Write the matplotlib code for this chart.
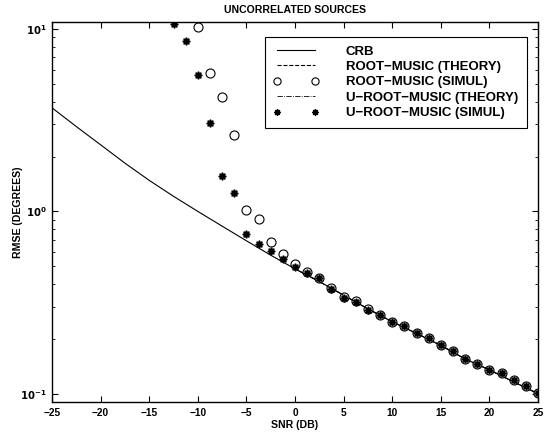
import numpy as np
import matplotlib
matplotlib.use("Agg")
import matplotlib.pyplot as plt
from matplotlib.ticker import FixedLocator, NullFormatter

plt.rcParams['font.family'] = ['Liberation Sans', 'DejaVu Sans']
plt.rcParams['font.weight'] = 'bold'
plt.rcParams['mathtext.default'] = 'bf'

# CRB curve
crb_snr = [-25, -22.5, -20, -17.5, -15, -12.5, -10, -7.5, -5, -2.5, 0,
           2.5, 5, 7.5, 10, 12.5, 15, 17.5, 20, 22.5, 25]
crb_val = [3.70, 2.92, 2.32, 1.84, 1.48, 1.21, 1.0, 0.83, 0.69, 0.575, 0.484,
           0.412, 0.347, 0.292, 0.248, 0.214, 0.184, 0.155, 0.135, 0.116, 0.10]

# theory curves (practically coincide with CRB)
rm_theory_snr = [0, 2.5, 5, 7.5, 10, 12.5, 15, 17.5, 20, 22.5, 25]
rm_theory_val = [0.484, 0.412, 0.347, 0.292, 0.248, 0.214, 0.184, 0.155, 0.135, 0.116, 0.10]
urm_theory_snr = [0, 2.5, 5, 7.5, 10, 12.5, 15, 17.5, 20, 22.5, 25]
urm_theory_val = [0.484, 0.412, 0.347, 0.292, 0.248, 0.214, 0.184, 0.155, 0.135, 0.116, 0.10]

# ROOT-MUSIC simulation (open circles)
rm_sim_snr = [-10, -8.75, -7.5, -6.25, -5, -3.75, -2.5, -1.25, 0, 1.25, 2.5, 3.75,
              5, 6.25, 7.5, 8.75, 10, 11.25, 12.5, 13.75, 15, 16.25, 17.5, 18.75,
              20, 21.25, 22.5, 23.75, 25]
rm_sim_val = [10.3, 5.71, 4.24, 2.63, 1.02, 0.906, 0.68, 0.587, 0.515, 0.466, 0.433, 0.378,
              0.338, 0.322, 0.29, 0.27, 0.248, 0.235, 0.216, 0.202, 0.185, 0.171, 0.154, 0.145,
              0.1355, 0.1295, 0.1185, 0.1106, 0.1005]

# U-ROOT-MUSIC simulation (stars)
urm_sim_snr = [-12.5, -11.25, -10, -8.75, -7.5, -6.25, -5, -3.75, -2.5, -1.25, 0, 1.25,
               2.5, 3.75, 5, 6.25, 7.5, 8.75, 10, 11.25, 12.5, 13.75, 15, 16.25, 17.5,
               18.75, 20, 21.25, 22.5, 23.75, 25]
urm_sim_val = [10.65, 8.66, 5.59, 3.05, 1.56, 1.268, 0.75, 0.666, 0.607, 0.547, 0.494, 0.46,
               0.431, 0.374, 0.336, 0.32, 0.289, 0.269, 0.247, 0.234, 0.216, 0.202, 0.185,
               0.171, 0.154, 0.145, 0.1355, 0.1295, 0.1185, 0.1106, 0.1005]

x_ticks = [-25, -20, -15, -10, -5, 0, 5, 10, 15, 20, 25]
x_ticklabels = ['\u221225', '\u221220', '\u221215', '\u221210', '\u22125', '0', '5', '10', '15', '20', '25']
y_ticks = [0.1, 1, 10]
y_ticklabels = ['$10^{-1}$', '$10^{0}$', '$10^{1}$']

fig = plt.figure(figsize=(5.44, 4.33), dpi=100)
ax = fig.add_axes([0.0956, 0.0716, 0.8934, 0.8769])

fs = 7.3
ax.plot(crb_snr, crb_val, '-', color='black', lw=0.8, label='CRB')
ax.plot(rm_theory_snr, rm_theory_val, '--', color='black', lw=0.8, label='ROOT\u2212MUSIC (THEORY)')
ax.plot(rm_sim_snr, rm_sim_val, 'o', mfc='white', mec='black', mew=0.8, ms=6.5,
        linestyle='none', label='ROOT\u2212MUSIC (SIMUL)')
ax.plot(urm_theory_snr, urm_theory_val, '-.', color='black', lw=0.6, label='U\u2212ROOT\u2212MUSIC (THEORY)')
ax.plot(urm_sim_snr, urm_sim_val, marker=(8, 1, 0), color='black', ms=5.5,
        linestyle='none', label='U\u2212ROOT\u2212MUSIC (SIMUL)')

ax.set_yscale('log')
ax.set_xlim(-25, 25)
ax.set_ylim(0.09, 10.9)
ax.xaxis.set_major_locator(FixedLocator(x_ticks))
ax.set_xticklabels(x_ticklabels)
ax.yaxis.set_major_locator(FixedLocator(y_ticks))
ax.set_yticklabels(y_ticklabels)
ax.yaxis.set_minor_formatter(NullFormatter())
ax.tick_params(which='both', direction='in', top=True, right=True, labelsize=fs, pad=4)
ax.tick_params(which='major', length=4, width=0.8)
ax.tick_params(which='minor', length=2, width=0.6)
for s in ax.spines.values():
    s.set_linewidth(1.0)

ax.set_title('UNCORRELATED SOURCES', fontsize=7.6, pad=7, fontweight='bold')
ax.set_xlabel('SNR (DB)', fontsize=7.6, labelpad=2, fontweight='bold')
ax.set_ylabel('RMSE (DEGREES)', fontsize=7.6, fontweight='bold')
ax.yaxis.set_label_coords(-0.06, 0.5)

leg = ax.legend(loc='upper right', bbox_to_anchor=(0.977, 0.962), numpoints=2,
                handlelength=3.45, handletextpad=2.05, labelspacing=0.24, borderpad=0.655,
                markerscale=0.8,
                fancybox=False, framealpha=1, edgecolor='black', borderaxespad=0,
                prop={'weight': 'bold', 'size': 9.5})
leg.get_frame().set_linewidth(0.8)

fig.savefig('out.png', dpi=100)
